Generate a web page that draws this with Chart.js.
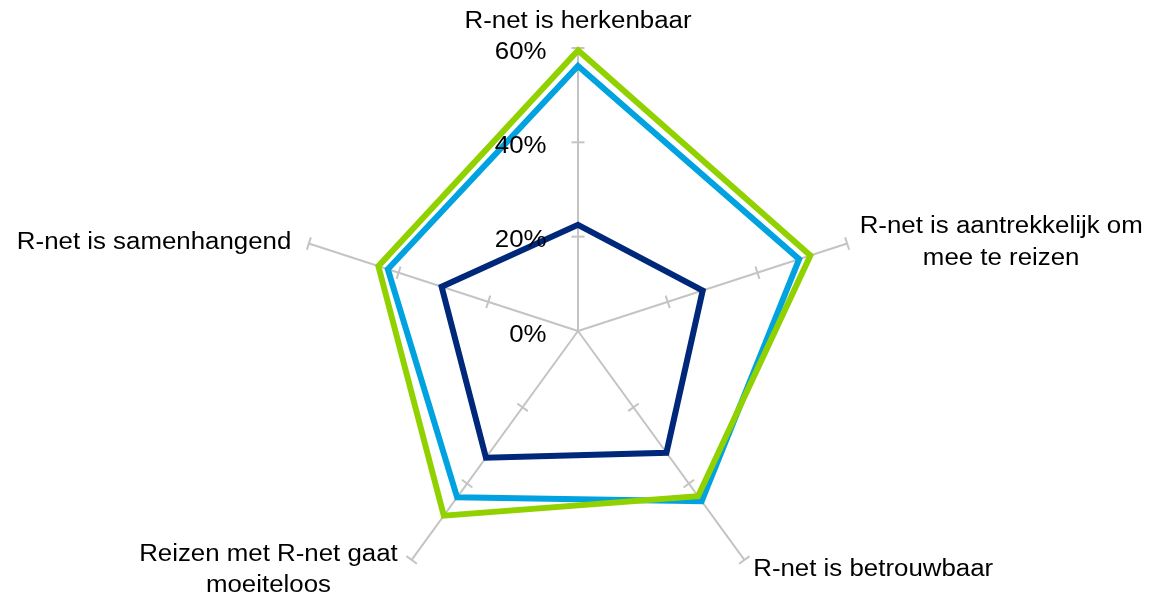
<!DOCTYPE html>
<html>
<head>
<meta charset="utf-8">
<script src="https://cdn.jsdelivr.net/npm/chart.js@4/dist/chart.umd.min.js"></script>
<style>
	html, body { margin: 0; padding: 0; overflow: hidden; background: #fff; }
	canvas { display: block; }
</style>
</head>
<body>
<canvas id="radar" width="1150" height="640"></canvas>
<script>
var categories = [
	'R-net is herkenbaar',
	['R-net is aantrekkelijk om', 'mee te reizen'],
	'R-net is betrouwbaar',
	['Reizen met R-net gaat', 'moeiteloos'],
	'R-net is samenhangend'
];
var seriesNavy = [22.5, 27.8, 31.9, 33.2, 30.4];
var seriesBlue = [56.2, 49.3, 44.6, 43.6, 42.4];
var seriesGreen = [59.5, 51.8, 43.3, 48.4, 44.5];
var tickValues = [0, 20, 40, 60];
var tickLabels = ['0%', '20%', '40%', '60%'];

var AXIS_COLOR = '#c4c4c4';
var FONT = '23.5px "Liberation Sans", Arial, sans-serif';
var STRETCH = 1.1; // the original text is drawn a bit wider than Arial

function wideText(ctx, text, x, y, align) {
	ctx.save();
	ctx.translate(x, y);
	ctx.scale(STRETCH, 1);
	ctx.textAlign = align;
	ctx.fillText(text, 0, 0);
	ctx.restore();
}

// tick marks across the spokes, the tick labels and the category labels
var radarDecor = {
	id: 'radarDecor',
	beforeDatasetsDraw: function(chart) {
		var scale = chart.scales.r;
		var ctx = chart.ctx;
		ctx.save();
		ctx.strokeStyle = AXIS_COLOR;
		ctx.lineWidth = 2;
		for (var i = 0; i < categories.length; i++) {
			var angle = scale.getIndexAngle(i) - Math.PI / 2;
			var px = -Math.sin(angle), py = Math.cos(angle);
			for (var t = 1; t < tickValues.length; t++) {
				var p = scale.getPointPosition(i, scale.getDistanceFromCenterForValue(tickValues[t]));
				ctx.beginPath();
				ctx.moveTo(p.x - px * 6.5, p.y - py * 6.5);
				ctx.lineTo(p.x + px * 6.5, p.y + py * 6.5);
				ctx.stroke();
			}
		}
		ctx.restore();
	},
	afterDatasetsDraw: function(chart) {
		var scale = chart.scales.r;
		var ctx = chart.ctx;
		ctx.save();
		ctx.font = FONT;
		ctx.fillStyle = '#000';
		ctx.textBaseline = 'alphabetic';

		for (var t = 0; t < tickValues.length; t++) {
			var y = scale.yCenter - scale.getDistanceFromCenterForValue(tickValues[t]);
			wideText(ctx, tickLabels[t], scale.xCenter - 31.5, y + 10.5, 'right');
		}

		var lineHeight = 31.5;
		var capMid = 8.4;
		for (var i = 0; i < categories.length; i++) {
			var lines = [].concat(categories[i]);
			var pos = scale.getPointPosition(i, scale.drawingArea + 10);
			var dx = pos.x - scale.xCenter;
			var blockW = 0;
			lines.forEach(function(l) { blockW = Math.max(blockW, ctx.measureText(l).width * STRETCH); });
			var cx;
			if (Math.abs(dx) < 1) {
				wideText(ctx, lines[0], pos.x, pos.y - 10, 'center');
				continue;
			} else if (dx > 0) {
				cx = pos.x + 3 + blockW / 2;
			} else {
				cx = pos.x - 8 - blockW / 2;
			}
			var first = pos.y - (lines.length - 1) * lineHeight / 2 + capMid;
			for (var k = 0; k < lines.length; k++) {
				wideText(ctx, lines[k], cx, first + k * lineHeight, 'center');
			}
		}
		ctx.restore();
	}
};

var ctx = document.getElementById('radar').getContext('2d');
var chart = new Chart(ctx, {
	type: 'radar',
	data: {
		labels: categories,
		datasets: [
			{ data: seriesNavy, borderColor: '#00287a' },
			{ data: seriesGreen, borderColor: '#91d100' },
			{ data: seriesBlue, borderColor: '#00a3e0' }
		]
	},
	options: {
		responsive: false,
		animation: false,
		devicePixelRatio: 1,
		layout: { padding: { top: 48, bottom: 26, left: 295, right: 289 } },
		elements: {
			line: { borderWidth: 6, fill: false, tension: 0, borderJoinStyle: 'miter' },
			point: { radius: 0, hoverRadius: 0 }
		},
		plugins: {
			legend: { display: false },
			tooltip: { enabled: false }
		},
		scales: {
			r: {
				min: 0,
				max: 60,
				ticks: { display: false, stepSize: 20 },
				grid: { display: false },
				angleLines: { display: true, color: AXIS_COLOR, lineWidth: 2 },
				pointLabels: { display: false }
			}
		}
	},
	plugins: [radarDecor]
});
</script>
</body>
</html>
